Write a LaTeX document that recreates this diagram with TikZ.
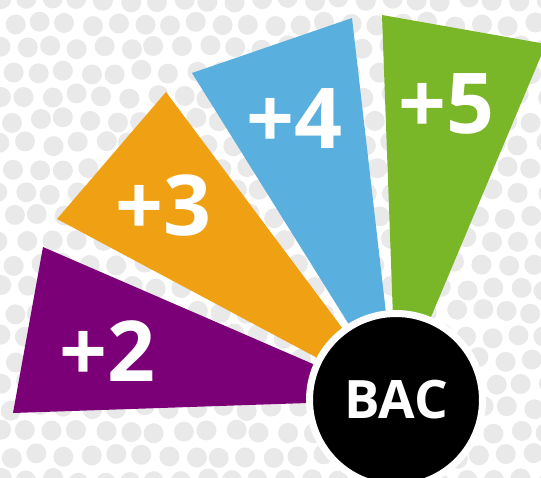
\documentclass[tikz,border=0pt]{standalone}
\usepackage{fontspec}
\setmainfont{Open Sans}
\usetikzlibrary{positioning}

\definecolor{bacpurple}{RGB}{123,0,120}
\definecolor{bacorange}{RGB}{240,161,19}
\definecolor{bacblue}{RGB}{89,175,222}
\definecolor{bacgreen}{RGB}{121,183,41}
\definecolor{dotgray}{RGB}{233,233,233}

\begin{document}
\begin{tikzpicture}[x=1pt,y=-1pt,
  digit/.style={text=white, inner sep=0pt, font=\fontsize{84}{84}\selectfont\bfseries},
  wedge/.style={fill=#1}]
\useasboundingbox (0,0) rectangle (541,478);
\clip (0,0) rectangle (541,478);

% dotted background
\pgfmathsetseed{11}
\foreach \row in {0,...,20}{
  \foreach \col in {-1,...,21}{
    \pgfmathsetmacro\px{\col*26+mod(\row,2)*13+rand*3}
    \pgfmathsetmacro\py{\row*24+rand*3}
    \fill[dotgray] (\px,\py) circle[radius=10pt];
  }
}

% fan of wedges round the centre
\coordinate (O) at (396,400);
\fill[wedge=bacpurple] (O) -- (43,247) -- (13,413) -- cycle;
\fill[wedge=bacorange] (O) -- (166,92) -- (57,219) -- cycle;
\fill[wedge=bacblue] (O) -- (352,18) -- (192,73) -- cycle;
\fill[wedge=bacgreen] (O) -- (546,44) -- (382,15) -- cycle;

\node[digit] (two) at (107,351) {+2};
\node[digit] (three) at (163,205) {+3};
\node[digit] (four) at (294,119) {+4};
\node[digit] (five) at (446,104) {+5};

% the bac disc
\node[circle, fill=black, draw=white, line width=7pt, minimum size=173pt,
  inner sep=0pt, text=white, font=\fontsize{53}{53}\selectfont\bfseries] (bac) at (O) {BAC};
\end{tikzpicture}
\end{document}
